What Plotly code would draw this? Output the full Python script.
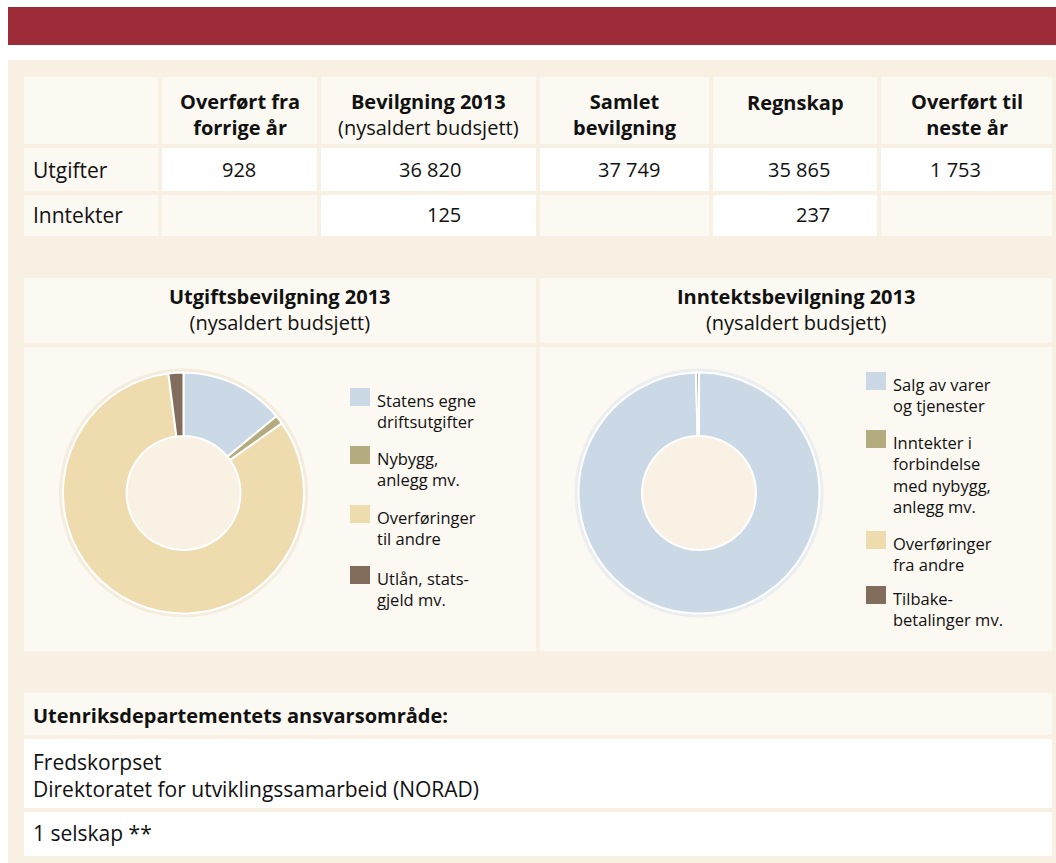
import plotly.graph_objects as go

# ---------------- data ----------------
col_headers = [
    ("Overført fra", "forrige år"),
    ("Bevilgning 2013", "(nysaldert budsjett)"),
    ("Samlet", "bevilgning"),
    ("Regnskap", ""),
    ("Overført til", "neste år"),
]
row_labels = ["Utgifter", "Inntekter"]
utgifter_values = ["928", "36 820", "37 749", "35 865", "1 753"]
inntekter_values = ["", "125", "", "237", ""]

utg_labels = ["Statens egne driftsutgifter", "Nybygg, anlegg mv.",
              "Overføringer til andre", "Utlån, statsgjeld mv."]
utg_legend_text = ["Statens egne\ndriftsutgifter", "Nybygg,\nanlegg mv.",
                   "Overføringer\ntil andre", "Utlån, stats-\ngjeld mv."]
utg_shares = [14.0, 1.2, 82.8, 2.0]

inn_labels = ["Salg av varer og tjenester",
              "Inntekter i forbindelse med nybygg, anlegg mv.",
              "Overføringer fra andre", "Tilbakebetalinger mv."]
inn_legend_text = ["Salg av varer\nog tjenester",
                   "Inntekter i\nforbindelse\nmed nybygg,\nanlegg mv.",
                   "Overføringer\nfra andre", "Tilbake-\nbetalinger mv."]
inn_shares = [99.6, 0.4, 0.0, 0.0]

pie_titles = [("Utgiftsbevilgning 2013", "(nysaldert budsjett)"),
              ("Inntektsbevilgning 2013", "(nysaldert budsjett)")]
area_title = "Utenriksdepartementets ansvarsområde:"
area_lines = ["Fredskorpset", "Direktoratet for utviklingssamarbeid (NORAD)"]
company_line = "1 selskap **"

# ---------------- style ----------------
slice_colors = ["#CBD9E7", "#B4AC7F", "#EEDBAE", "#826C5B"]
RED = "#9D2A37"
PANEL = "#F8F0E2"
LIGHT = "#FCF9F2"
WHITE = "#FFFFFF"
HOLE = "#F8F1E4"
FONT = "Open Sans"
INK = "#111111"

W, H = 1056, 863


def px(x):
    return x / W


def py(y):
    return 1 - y / H


shapes = []
annotations = []


def rect(x0, y0, x1, y1, color):
    shapes.append(dict(type="rect", xref="paper", yref="paper",
                       x0=px(x0), x1=px(x1), y0=py(y1), y1=py(y0),
                       fillcolor=color, line=dict(width=0), layer="below"))


def circle(cx, cy, r, color):
    shapes.append(dict(type="circle", xref="paper", yref="paper",
                       x0=px(cx - r), x1=px(cx + r), y0=py(cy + r), y1=py(cy - r),
                       fillcolor=color, line=dict(width=0), layer="below"))


def text(x, y, s, size=20, anchor="left", yanchor="middle", align=None):
    annotations.append(dict(xref="paper", yref="paper", x=px(x), y=py(y),
                            text=s, showarrow=False, xanchor=anchor,
                            yanchor=yanchor, align=align or anchor,
                            font=dict(family=FONT, size=size, color=INK)))


# background blocks
rect(8, 7, 1056, 45, RED)
rect(8, 60, 1056, 863, PANEL)

cols = [(24, 158), (162, 317), (321, 536), (540, 709), (713, 877), (881, 1052)]
rows = [(77, 144), (148, 191), (195, 236)]

# table header row
for (x0, x1) in cols:
    rect(x0, rows[0][0], x1, rows[0][1], LIGHT)
# label cells
rect(cols[0][0], rows[1][0], cols[0][1], rows[1][1], LIGHT)
rect(cols[0][0], rows[2][0], cols[0][1], rows[2][1], LIGHT)
# value cells: white where a value exists
for i, v in enumerate(utgifter_values):
    x0, x1 = cols[i + 1]
    rect(x0, rows[1][0], x1, rows[1][1], WHITE if v else LIGHT)
for i, v in enumerate(inntekter_values):
    x0, x1 = cols[i + 1]
    rect(x0, rows[2][0], x1, rows[2][1], WHITE if v else LIGHT)

# header texts
for i, (l1, l2) in enumerate(col_headers):
    x0, x1 = cols[i + 1]
    cx = (x0 + x1) / 2
    if l2:
        second = l2 if i == 1 else "<b>" + l2 + "</b>"
        text(cx, 114, "<b>" + l1 + "</b><br>" + second, size=20, anchor="center")
    else:
        text(cx, 102, "<b>" + l1 + "</b>", size=20, anchor="center")

right_edges = [258, 463, 662, 832, 983]
text(31, 170, row_labels[0], size=21)
text(31, 215, row_labels[1], size=21)
for i, v in enumerate(utgifter_values):
    text(right_edges[i], 170, v, size=20, anchor="right")
for i, v in enumerate(inntekter_values):
    if v:
        text(right_edges[i], 215, v, size=20, anchor="right")

# pie panels
panels = [(24, 536), (540, 1052)]
for k, (x0, x1) in enumerate(panels):
    rect(x0, 278, x1, 343, LIGHT)
    rect(x0, 347, x1, 651, LIGHT)
    cx = (x0 + x1) / 2
    text(cx, 309, "<b>" + pie_titles[k][0] + "</b><br>" + pie_titles[k][1],
         size=20, anchor="center")

centers = [(183.5, 493), (699, 493)]
R = 120.5
circle(centers[0][0], centers[0][1], 124.5, "#F4ECDD")
circle(centers[1][0], centers[1][1], 124.5, "#EAEEF1")
for (cx, cy) in centers:
    circle(cx, cy, 57, HOLE)

# bottom area
rect(24, 693, 1052, 735, LIGHT)
rect(24, 739, 1052, 808, WHITE)
rect(24, 812, 1052, 856, WHITE)
text(31, 715, "<b>" + area_title + "</b>", size=20)
text(31, 775, area_lines[0] + "<br>" + area_lines[1], size=21)
text(31, 833, company_line, size=21)


# legends
def legend(items, box_x, box_tops):
    for i, (lbl, top) in enumerate(zip(items, box_tops)):
        rect(box_x, top, box_x + 20, top + 18, slice_colors[i])
        text(box_x + 25, top - 1, lbl.replace("\n", "<br>"), size=16.5,
             yanchor="top", anchor="left")


legend(utg_legend_text, 350, [388, 446, 505, 566])
legend(inn_legend_text, 866, [372, 430, 531, 586])

fig = go.Figure()
for k, (labels, vals) in enumerate([(utg_labels, utg_shares), (inn_labels, inn_shares)]):
    cx, cy = centers[k]
    fig.add_trace(go.Pie(
        labels=labels, values=vals, hole=57 / R, sort=False,
        direction="clockwise", rotation=0,
        marker=dict(colors=slice_colors, line=dict(color="white", width=2)),
        textinfo="none", hoverinfo="label+percent", showlegend=False,
        domain=dict(x=[px(cx - R), px(cx + R)], y=[py(cy + R), py(cy - R)]),
    ))

fig.update_layout(
    width=W, height=H, margin=dict(l=0, r=0, t=0, b=0),
    paper_bgcolor="white", plot_bgcolor="white",
    shapes=shapes, annotations=annotations, showlegend=False,
)
fig.write_html("out.html",
               config={"displayModeBar": False},
               post_script="document.body.style.margin='0';"
                           "document.body.style.overflow='hidden';")
